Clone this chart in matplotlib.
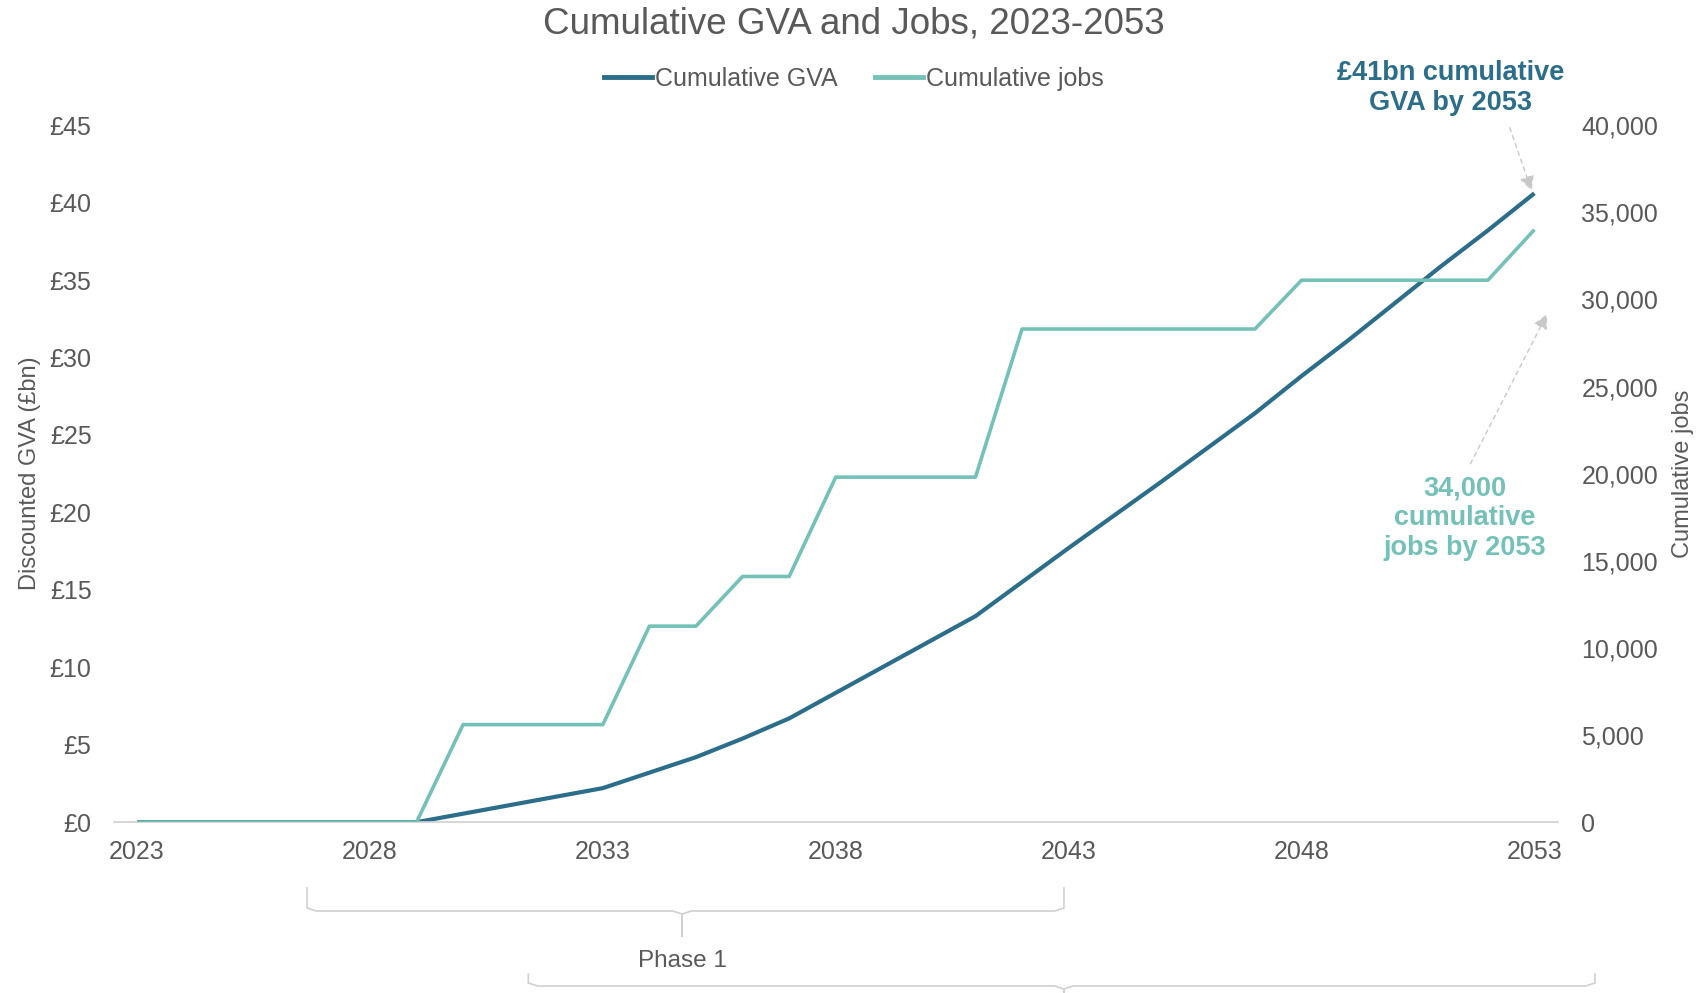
import matplotlib
matplotlib.use("Agg")
import matplotlib.pyplot as plt
from matplotlib.lines import Line2D
from matplotlib.patches import FancyArrowPatch
from matplotlib.ticker import FuncFormatter
import matplotlib.transforms as mtransforms

plt.rcParams["font.family"] = ["Liberation Sans", "DejaVu Sans"]

# --- data ---
years = list(range(2023, 2054))
gva_bn = [0, 0, 0, 0, 0, 0, 0,
          0.55, 1.1, 1.65, 2.2, 3.2, 4.2, 5.4, 6.7, 8.35, 10.0, 11.65, 13.3,
          15.5, 17.7, 19.85, 22.0, 24.2, 26.4, 28.8, 31.1, 33.5, 35.9, 38.2, 40.6]
jobs = [0, 0, 0, 0, 0, 0, 0,
        5600, 5600, 5600, 5600, 11250, 11250, 14100, 14100,
        19800, 19800, 19800, 19800,
        28300, 28300, 28300, 28300, 28300, 28300,
        31100, 31100, 31100, 31100, 31100, 34000]
xticks = [2023, 2028, 2033, 2038, 2043, 2048, 2053]
gva_ticks = list(range(0, 50, 5))
job_ticks = list(range(0, 45000, 5000))

DARK = "#2C6E8A"
TEAL = "#74C1B8"
GREY_TXT = "#595959"
GREY_LN = "#D0D0D0"

fig = plt.figure(figsize=(17.08, 9.93), dpi=100)
ax = fig.add_axes([0.0666, 0.172, 0.8454, 0.702])
ax2 = ax.twinx()

ax.plot(years, gva_bn, color=DARK, lw=3.0, label="Cumulative GVA", solid_capstyle="butt")
ax2.plot(years, jobs, color=TEAL, lw=2.6, label="Cumulative jobs", solid_capstyle="butt")

ax.set_xlim(2022.5, 2053.5)
ax.set_ylim(0, 45)
ax2.set_ylim(0, 40000)
ax.set_xticks(xticks)
ax.set_yticks(gva_ticks)
ax2.set_yticks(job_ticks)
ax.yaxis.set_major_formatter(FuncFormatter(lambda v, p: f"£{v:.0f}"))
ax2.yaxis.set_major_formatter(FuncFormatter(lambda v, p: f"{v:,.0f}"))

for a in (ax, ax2):
    for s in a.spines.values():
        s.set_visible(False)
    a.tick_params(length=0, labelsize=18, labelcolor=GREY_TXT)
ax.tick_params(axis="y", pad=16)
ax2.tick_params(axis="y", pad=17)
ax.tick_params(axis="x", pad=13)
ax.spines["bottom"].set_visible(True)
ax.spines["bottom"].set_color(GREY_LN)
ax.spines["bottom"].set_linewidth(1.2)

ax.set_ylabel("Discounted GVA (£bn)", fontsize=17, color=GREY_TXT)
ax.yaxis.set_label_coords(-0.0502, 0.5)
ax2.set_ylabel("Cumulative jobs", fontsize=17, color=GREY_TXT)
ax2.yaxis.set_label_coords(1.079, 0.5)

fig.text(0.5, 1 - 24 / 993, "Cumulative GVA and Jobs, 2023-2053",
         ha="center", va="center", fontsize=26.5, color=GREY_TXT)

handles = [Line2D([], [], color=DARK, lw=3.5), Line2D([], [], color=TEAL, lw=3.5)]
fig.legend(handles, ["Cumulative GVA", "Cumulative jobs"], loc="center",
           bbox_to_anchor=(0.5, 1 - 79 / 993), ncol=2, frameon=False,
           fontsize=18, handlelength=1.9, handletextpad=0.13, columnspacing=1.5,
           labelcolor=GREY_TXT)

# annotations
ax.text(2051.2, 47.4, "£41bn cumulative\nGVA by 2053", ha="center", va="center",
        fontsize=19.5, fontweight="bold", color=DARK, linespacing=1.2, clip_on=False)
ax.add_patch(FancyArrowPatch((2052.45, 45.0), (2052.96, 40.6), arrowstyle="-|>",
                             mutation_scale=22, color="#C8C8C8", lw=1,
                             linestyle=(0, (3, 3)), clip_on=False))
ax2.text(2051.5, 17450, "34,000\ncumulative\njobs by 2053", ha="center", va="center",
         fontsize=19.5, fontweight="bold", color=TEAL, linespacing=1.2, clip_on=False)
ax2.add_patch(FancyArrowPatch((2051.6, 20430), (2053.3, 29300), arrowstyle="-|>",
                              mutation_scale=22, color="#C8C8C8", lw=1,
                              linestyle=(0, (3, 3)), clip_on=False))

# phase braces below the axis (x in years, y in figure pixels from top)
trans = mtransforms.blended_transform_factory(ax.transData, fig.transFigure)


def brace(x0, x1, xm, y_top, y_mid, y_tip, r=0.2):
    f = lambda py: 1 - py / 993
    xs = [x0, x0, x0 + r, xm - r, xm, xm, xm, xm + r, x1 - r, x1, x1]
    ys = [y_top, y_mid - 3, y_mid, y_mid, y_mid + 3, y_tip, y_mid + 3, y_mid, y_mid, y_mid - 3, y_top]
    ax.add_line(Line2D(xs, [f(v) for v in ys], transform=trans, color=GREY_LN,
                       lw=1.2, clip_on=False))


brace(2026.65, 2042.9, 2034.7, 888, 911, 936)
brace(2031.4, 2054.3, 2042.9, 974, 986, 1000)
ax.text(2034.7, 1 - 961 / 993, "Phase 1", transform=trans, ha="center", va="center",
        fontsize=17.5, color=GREY_TXT)

fig.savefig("out.png", dpi=100)
